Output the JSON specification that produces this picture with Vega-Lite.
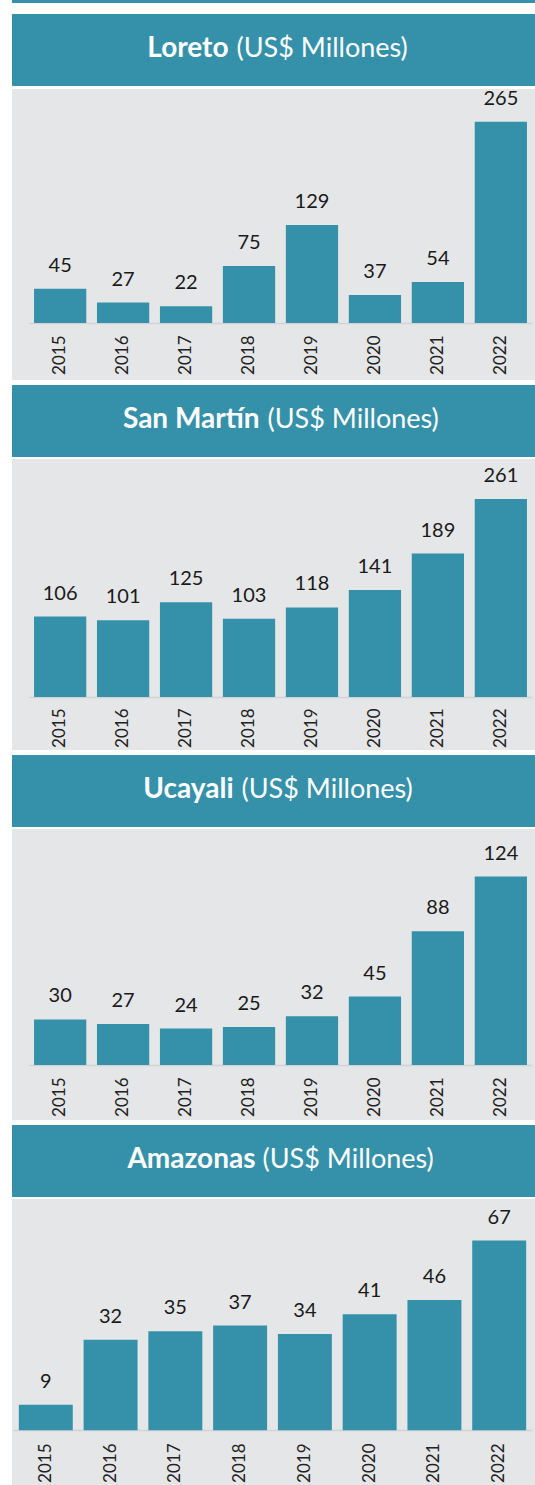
{
  "$schema": "https://vega.github.io/schema/vega-lite/v6.json",
  "background": "white",
  "padding": {"left": 12, "top": 0, "right": 0, "bottom": 0},
  "config": {
    "view": {"stroke": null},
    "font": "Lato",
    "axis": {"labelFont": "Lato", "titleFont": "Lato"}
  },
  "datasets": {
    "loreto": [
      {"year": "2015", "value": 45}, {"year": "2016", "value": 27}, {"year": "2017", "value": 22}, {"year": "2018", "value": 75},
      {"year": "2019", "value": 129}, {"year": "2020", "value": 37}, {"year": "2021", "value": 54}, {"year": "2022", "value": 265}
    ],
    "sanmartin": [
      {"year": "2015", "value": 106}, {"year": "2016", "value": 101}, {"year": "2017", "value": 125}, {"year": "2018", "value": 103},
      {"year": "2019", "value": 118}, {"year": "2020", "value": 141}, {"year": "2021", "value": 189}, {"year": "2022", "value": 261}
    ],
    "ucayali": [
      {"year": "2015", "value": 30}, {"year": "2016", "value": 27}, {"year": "2017", "value": 24}, {"year": "2018", "value": 25},
      {"year": "2019", "value": 32}, {"year": "2020", "value": 45}, {"year": "2021", "value": 88}, {"year": "2022", "value": 124}
    ],
    "amazonas": [
      {"year": "2015", "value": 9}, {"year": "2016", "value": 32}, {"year": "2017", "value": 35}, {"year": "2018", "value": 37},
      {"year": "2019", "value": 34}, {"year": "2020", "value": 41}, {"year": "2021", "value": 46}, {"year": "2022", "value": 67}
    ]
  },
  "spacing": 11,
  "vconcat": [
    {
      "width": 523, "height": 3,
      "view": {"fill": "#3591aa"},
      "data": {"values": [{"t": ""}]},
      "mark": {"type": "text", "fontSize": 1},
      "encoding": {"text": {"field": "t"}}
    },
    {
      "spacing": 5,
      "vconcat": [
        {
          "spacing": 2,
          "vconcat": [
            {
              "width": 523, "height": 72,
              "view": {"fill": "#3591aa"},
              "data": {"values": [{"name": "Loreto", "unit": "(US$ Millones)"}]},
              "layer": [
                {"mark": {"type": "text", "align": "right", "baseline": "alphabetic", "dx": -45, "dy": 7, "fontSize": 28, "fontWeight": "bold", "color": "white"}, "encoding": {"text": {"field": "name"}}},
                {"mark": {"type": "text", "align": "left", "baseline": "alphabetic", "dx": -37, "dy": 7, "fontSize": 27, "color": "white"}, "encoding": {"text": {"field": "unit"}}}
              ]
            },
            {
              "width": 523, "height": 291,
              "view": {"fill": "#e5e6e8"},
              "data": {"name": "loreto"},
              "encoding": {
                "x": {"field": "year", "type": "ordinal", "scale": {"range": [17, 520], "paddingInner": 0.17, "paddingOuter": 0.08},
                  "axis": {"title": null, "offset": -57, "labelAngle": -90, "labelAlign": "right", "labelBaseline": "middle", "labelPadding": 12, "ticks": false, "tickSize": 0, "domainColor": "#d2d3d5", "domainWidth": 1.5, "labelFontSize": 17, "labelColor": "#222222", "grid": false}},
                "y": {"field": "value", "type": "quantitative", "scale": {"domain": [-75, 308], "nice": false}, "axis": null}
              },
              "layer": [
                {"mark": {"type": "bar", "color": "#3591aa"}},
                {"mark": {"type": "text", "baseline": "alphabetic", "dy": -17, "fontSize": 20, "color": "#1a1a1a"}, "encoding": {"text": {"field": "value", "type": "quantitative"}}}
              ]
            }
          ]
        },
        {
          "spacing": 2,
          "vconcat": [
            {
              "width": 523, "height": 72,
              "view": {"fill": "#3591aa"},
              "data": {"values": [{"name": "San Martín", "unit": "(US$ Millones)"}]},
              "layer": [
                {"mark": {"type": "text", "align": "right", "baseline": "alphabetic", "dx": -14, "dy": 7, "fontSize": 28, "fontWeight": "bold", "color": "white"}, "encoding": {"text": {"field": "name"}}},
                {"mark": {"type": "text", "align": "left", "baseline": "alphabetic", "dx": -6, "dy": 7, "fontSize": 27, "color": "white"}, "encoding": {"text": {"field": "unit"}}}
              ]
            },
            {
              "width": 523, "height": 291,
              "view": {"fill": "#e5e6e8"},
              "data": {"name": "sanmartin"},
              "encoding": {
                "x": {"field": "year", "type": "ordinal", "scale": {"range": [17, 520], "paddingInner": 0.17, "paddingOuter": 0.08},
                  "axis": {"title": null, "offset": -53, "labelAngle": -90, "labelAlign": "right", "labelBaseline": "middle", "labelPadding": 11, "ticks": false, "tickSize": 0, "domainColor": "#d2d3d5", "domainWidth": 1.5, "labelFontSize": 17, "labelColor": "#222222", "grid": false}},
                "y": {"field": "value", "type": "quantitative", "scale": {"domain": [-69.8, 313.6], "nice": false}, "axis": null}
              },
              "layer": [
                {"mark": {"type": "bar", "color": "#3591aa"}},
                {"mark": {"type": "text", "baseline": "alphabetic", "dy": -17, "fontSize": 20, "color": "#1a1a1a"}, "encoding": {"text": {"field": "value", "type": "quantitative"}}}
              ]
            }
          ]
        },
        {
          "spacing": 2,
          "vconcat": [
            {
              "width": 523, "height": 72,
              "view": {"fill": "#3591aa"},
              "data": {"values": [{"name": "Ucayali", "unit": "(US$ Millones)"}]},
              "layer": [
                {"mark": {"type": "text", "align": "right", "baseline": "alphabetic", "dx": -40, "dy": 7, "fontSize": 28, "fontWeight": "bold", "color": "white"}, "encoding": {"text": {"field": "name"}}},
                {"mark": {"type": "text", "align": "left", "baseline": "alphabetic", "dx": -32, "dy": 7, "fontSize": 27, "color": "white"}, "encoding": {"text": {"field": "unit"}}}
              ]
            },
            {
              "width": 523, "height": 291,
              "view": {"fill": "#e5e6e8"},
              "data": {"name": "ucayali"},
              "encoding": {
                "x": {"field": "year", "type": "ordinal", "scale": {"range": [17, 520], "paddingInner": 0.17, "paddingOuter": 0.08},
                  "axis": {"title": null, "offset": -55, "labelAngle": -90, "labelAlign": "right", "labelBaseline": "middle", "labelPadding": 12, "ticks": false, "tickSize": 0, "domainColor": "#d2d3d5", "domainWidth": 1.5, "labelFontSize": 17, "labelColor": "#222222", "grid": false}},
                "y": {"field": "value", "type": "quantitative", "scale": {"domain": [-36.2, 155.3], "nice": false}, "axis": null}
              },
              "layer": [
                {"mark": {"type": "bar", "color": "#3591aa"}},
                {"mark": {"type": "text", "baseline": "alphabetic", "dy": -17, "fontSize": 20, "color": "#1a1a1a"}, "encoding": {"text": {"field": "value", "type": "quantitative"}}}
              ]
            }
          ]
        },
        {
          "spacing": 2,
          "vconcat": [
            {
              "width": 523, "height": 72,
              "view": {"fill": "#3591aa"},
              "data": {"values": [{"name": "Amazonas", "unit": "(US$ Millones)"}]},
              "layer": [
                {"mark": {"type": "text", "align": "right", "baseline": "alphabetic", "dx": -18, "dy": 7, "fontSize": 28, "fontWeight": "bold", "color": "white"}, "encoding": {"text": {"field": "name"}}},
                {"mark": {"type": "text", "align": "left", "baseline": "alphabetic", "dx": -11, "dy": 7, "fontSize": 27, "color": "white"}, "encoding": {"text": {"field": "unit"}}}
              ]
            },
            {
              "width": 523, "height": 287,
              "view": {"fill": "#e5e6e8"},
              "data": {"name": "amazonas"},
              "encoding": {
                "x": {"field": "year", "type": "ordinal", "scale": {"range": [1, 520], "paddingInner": 0.167, "paddingOuter": 0.09},
                  "axis": {"title": null, "offset": -56, "labelAngle": -90, "labelAlign": "right", "labelBaseline": "middle", "labelPadding": 13, "ticks": false, "tickSize": 0, "domainColor": "#d2d3d5", "domainWidth": 1.5, "labelFontSize": 17, "labelColor": "#222222", "grid": false}},
                "y": {"field": "value", "type": "quantitative", "scale": {"domain": [-19.7, 81.7], "nice": false}, "axis": null}
              },
              "layer": [
                {"mark": {"type": "bar", "color": "#3591aa"}},
                {"mark": {"type": "text", "baseline": "alphabetic", "dy": -17, "fontSize": 20, "color": "#1a1a1a"}, "encoding": {"text": {"field": "value", "type": "quantitative"}}}
              ]
            }
          ]
        }
      ]
    }
  ]
}
